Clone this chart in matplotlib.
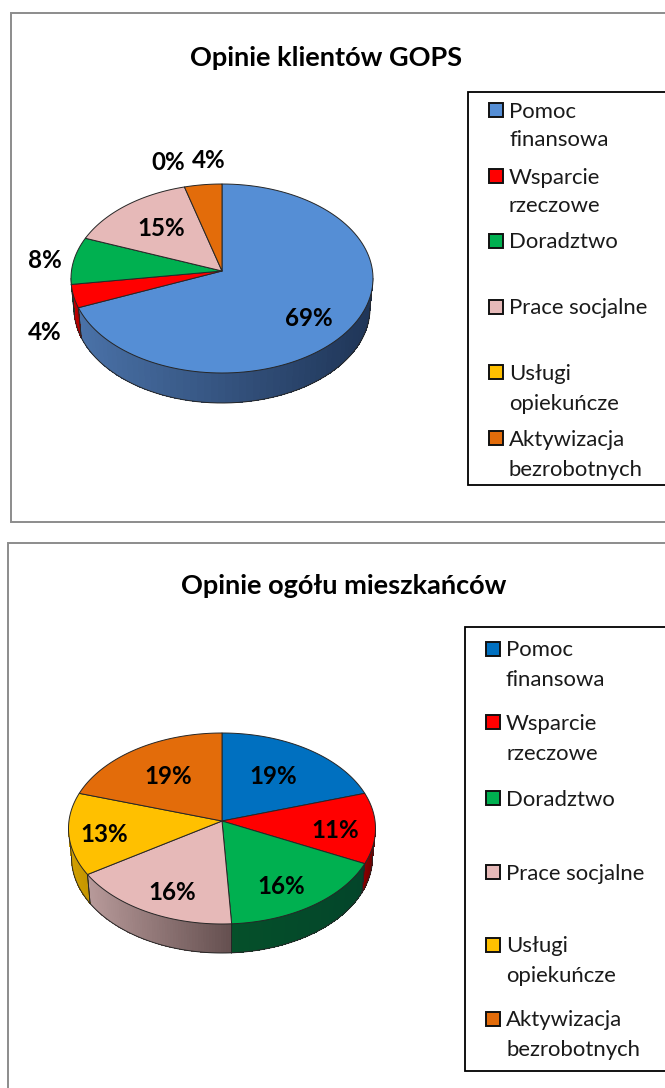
import numpy as np
import matplotlib
matplotlib.use('Agg')
import matplotlib.pyplot as plt
from matplotlib.colors import to_rgb
from matplotlib.patches import Rectangle

plt.rcParams['font.family'] = ['Lato', 'DejaVu Sans']

categories_1 = [['Pomoc', 'finansowa'], ['Wsparcie', 'rzeczowe'], ['Doradztwo'],
                ['Prace socjalne'], ['Usługi', 'opiekuńcze'], ['Aktywizacja', 'bezrobotnych']]
categories_2 = categories_1

# slice sizes as they look in the picture, the printed labels do not add up to 100
shares_1 = [70, 4, 8, 14, 0, 4]
labels_1 = ['69%', '4%', '8%', '15%', '0%', '4%']
shares_2 = [19, 12, 18, 18, 14, 19]
labels_2 = ['19%', '11%', '16%', '16%', '13%', '19%']

colors_1 = ['#558ed5', '#ff0000', '#00b050', '#e6b9b8', '#ffc000', '#e36c0a']
colors_2 = ['#0070c0', '#ff0000', '#00b050', '#e6b9b8', '#ffc000', '#e36c0a']

# side wall colours of each slice: left end, right end
sides_1 = [('#4a72a8', '#1f3557'), ('#c80000', '#a80000'), ('#00803a', '#00803a'),
           ('#b89898', '#6a5050'), ('#cc9a00', '#cc9a00'), ('#b05008', '#b05008')]
sides_2 = [('#004f88', '#004f88'), ('#8a0000', '#6a0000'), ('#05502a', '#03452a'),
           ('#b89a9a', '#655050'), ('#d29f00', '#c49500'), ('#b05008', '#b05008')]

EDGE = '#262626'


def wall(ax, start, stop, cx, cy, rx, ry, depth, left, right):
    # cw angles from 12 o'clock, only the front half of the rim is visible
    a0, a1 = max(start, 90), min(stop, 270)
    if a1 <= a0:
        return
    t = np.radians(np.linspace(a0, a1, 61))
    x = cx + rx * np.sin(t)
    y = cy - ry * np.cos(t)
    xb = cx + (rx - 3) * np.sin(t)  # lower rim is a bit narrower
    yb = y + depth
    c_l, c_r = np.array(to_rgb(left)), np.array(to_rgb(right))
    for i in range(len(t) - 1):
        f = (x[i] - x.min()) / (x.max() - x.min())
        col = c_l + (c_r - c_l) * f
        j = min(i + 2, len(t) - 1)  # overlap the strips so no seams show
        ax.fill([x[i], x[j], xb[j], xb[i]], [y[i], y[j], yb[j], yb[i]],
                color=col, lw=0, antialiased=False, zorder=2)
    ax.plot(xb, yb, color=EDGE, lw=0.7, zorder=3)
    ax.plot([x[0], xb[0]], [y[0], yb[0]], color=EDGE, lw=0.6, zorder=3)
    ax.plot([x[-1], xb[-1]], [y[-1], yb[-1]], color=EDGE, lw=0.6, zorder=3)


def pie3d(ax, shares, colors, sides, cx, cy, apex, rx, ry, depth):
    edges = np.cumsum([0] + shares) / sum(shares) * 360
    for i in range(len(shares)):
        wall(ax, edges[i], edges[i + 1], cx, cy, rx, ry, depth, *sides[i])
    for i in range(len(shares)):
        if shares[i] == 0:
            continue
        t = np.radians(np.linspace(edges[i], edges[i + 1], 120))
        x = np.r_[cx, cx + rx * np.sin(t)]
        y = np.r_[apex, cy - ry * np.cos(t)]
        ax.fill(x, y, facecolor=colors[i], edgecolor=EDGE, lw=0.7, zorder=4, joinstyle='round')


def legend(ax, cats, colors, ys, x_box, y_top, y_bot):
    ax.add_patch(Rectangle((x_box, y_top), 665 - x_box + 5, y_bot - y_top, fc='white', ec='black', lw=1.3, zorder=1))
    k = 0
    for cat, col in zip(cats, colors):
        ax.add_patch(Rectangle((x_box + 21, ys[k] - 7), 14, 14, fc=col, ec='#111111', lw=1.4, zorder=5))
        for line in cat:
            ax.text(x_box + 41, ys[k] + 1.5, line, fontsize=15.9, color='#1a1a1a', ha='left', va='center')
            k += 1


fig = plt.figure(figsize=(6.65, 10.88), dpi=100)
ax = fig.add_axes([0, 0, 1, 1])
ax.set_xlim(0, 665)
ax.set_ylim(1088, 0)
ax.axis('off')

# chart frames
ax.add_patch(Rectangle((11, 13), 680, 509, fc='white', ec='#8c8c8c', lw=1.4))
ax.add_patch(Rectangle((8, 543), 680, 600, fc='white', ec='#8c8c8c', lw=1.4))

ax.text(326, 58, 'Opinie klientów GOPS', fontsize=19.5, fontweight='bold', ha='center', va='center', color='black')
ax.text(344, 586, 'Opinie ogółu mieszkańców', fontsize=19.5, fontweight='bold', ha='center', va='center', color='black')

pie3d(ax, shares_1, colors_1, sides_1, 222, 278.5, 271, 151, 94.5, 30)
pie3d(ax, shares_2, colors_2, sides_2, 222, 828.5, 821, 153.5, 95.5, 29)

label_xy_1 = [(309, 319), (45, 332), (45, 261), (161, 228), (168, 162), (209, 160)]
label_xy_2 = [(273, 776), (335, 830), (281, 886), (172, 892), (104, 834), (168, 776)]
for lab, xy in list(zip(labels_1, label_xy_1)) + list(zip(labels_2, label_xy_2)):
    ax.text(xy[0], xy[1], lab, fontsize=17.4, fontweight='bold', ha='center', va='center', color='black', zorder=6)

legend(ax, categories_1, colors_1, [110, 139, 176, 205, 241, 307, 372, 402, 438, 468], 468, 92, 485)
legend(ax, categories_2, colors_2, [649, 679, 722, 752, 798, 872, 945, 975, 1019, 1048], 465, 627, 1071)

fig.savefig('out.png', dpi=100)
